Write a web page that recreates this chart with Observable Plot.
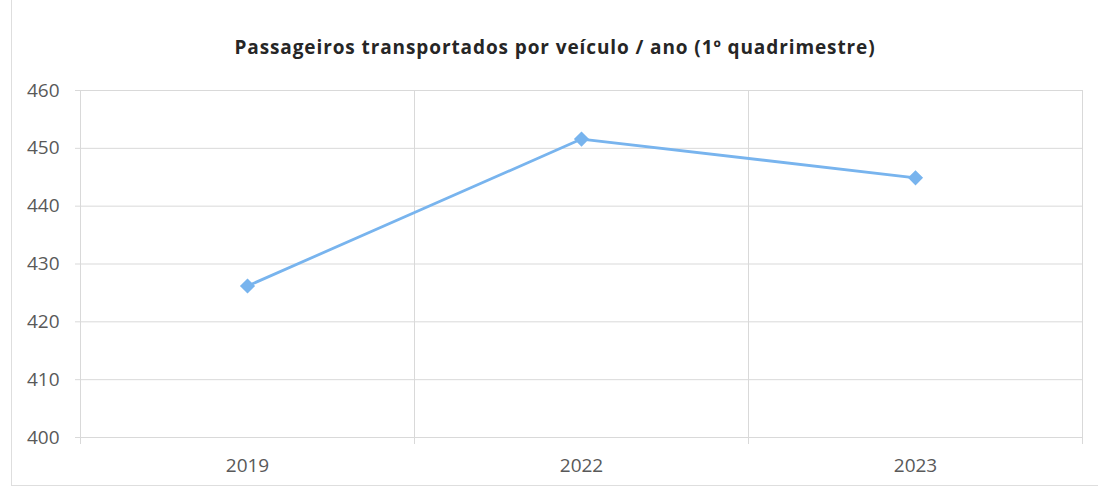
<!DOCTYPE html>
<html>
<head>
<meta charset="utf-8">
<script src="https://cdn.jsdelivr.net/npm/d3@7"></script>
<script src="https://cdn.jsdelivr.net/npm/@observablehq/plot@0.6"></script>
<style>
  html, body { margin: 0; padding: 0; background: #fff; }
  #wrap { position: relative; width: 1098px; height: 489px; overflow: hidden; }
  #frame { position: absolute; left: 11px; top: 0; width: 1100px; height: 485px;
           border-left: 1px solid #dedede; border-bottom: 1px solid #dedede; }
  #title { position: absolute; left: 0; width: 1110px; top: 34px; text-align: center;
           font-family: "Open Sans", sans-serif; font-weight: 700; font-size: 19px;
           letter-spacing: 0.9px; color: #262626; }
  #chart { position: absolute; left: 0; top: 0; }
</style>
</head>
<body>
<div id="wrap">
  <div id="frame"></div>
  <div id="chart"></div>
  <div id="title">Passageiros transportados por veículo / ano (1º quadrimestre)</div>
</div>
<script>
const years = ["2019", "2022", "2023"];
const passengers = [426.2, 451.6, 444.9];
const yTicks = [400, 410, 420, 430, 440, 450, 460];

const data = years.map((y, i) => ({i, year: y, value: passengers[i]}));
const bounds = years.map((_, i) => i - 0.5).concat([years.length - 0.5]);

const lineColor = "#78b4ee";
const gridColor = "#d9d9d9";

const chart = Plot.plot({
  width: 1098,
  height: 489,
  marginLeft: 80,
  marginRight: 16,
  marginTop: 90,
  marginBottom: 52,
  style: {fontFamily: "Open Sans, sans-serif", fontSize: "19px", color: "#595959", background: "transparent"},
  x: {type: "linear", domain: [-0.5, years.length - 0.5]},
  y: {domain: [400, 460]},
  marks: [
    Plot.ruleY(yTicks, {y: d => d, x1: -0.5, x2: years.length - 0.5, stroke: gridColor, strokeWidth: 1}),
    Plot.ruleX(bounds, {x: d => d, y1: 460, y2: 400, insetBottom: -7, stroke: gridColor, strokeWidth: 1}),
    Plot.axisY({ticks: yTicks, tickSize: 5, tickPadding: 16, stroke: gridColor, label: null, fill: "#595959", fontSize: 19}),
    Plot.axisX({ticks: years.map((_, i) => i), tickFormat: i => years[i], tickSize: 0, tickPadding: 21, label: null, fill: "#595959", fontSize: 19}),
    Plot.line(data, {x: "i", y: "value", stroke: lineColor, strokeWidth: 2.8}),
    Plot.dot(data, {x: "i", y: "value", symbol: "square", r: 5.2, rotate: 45, fill: lineColor, stroke: lineColor})
  ]
});
document.getElementById("chart").appendChild(chart);
</script>
</body>
</html>
